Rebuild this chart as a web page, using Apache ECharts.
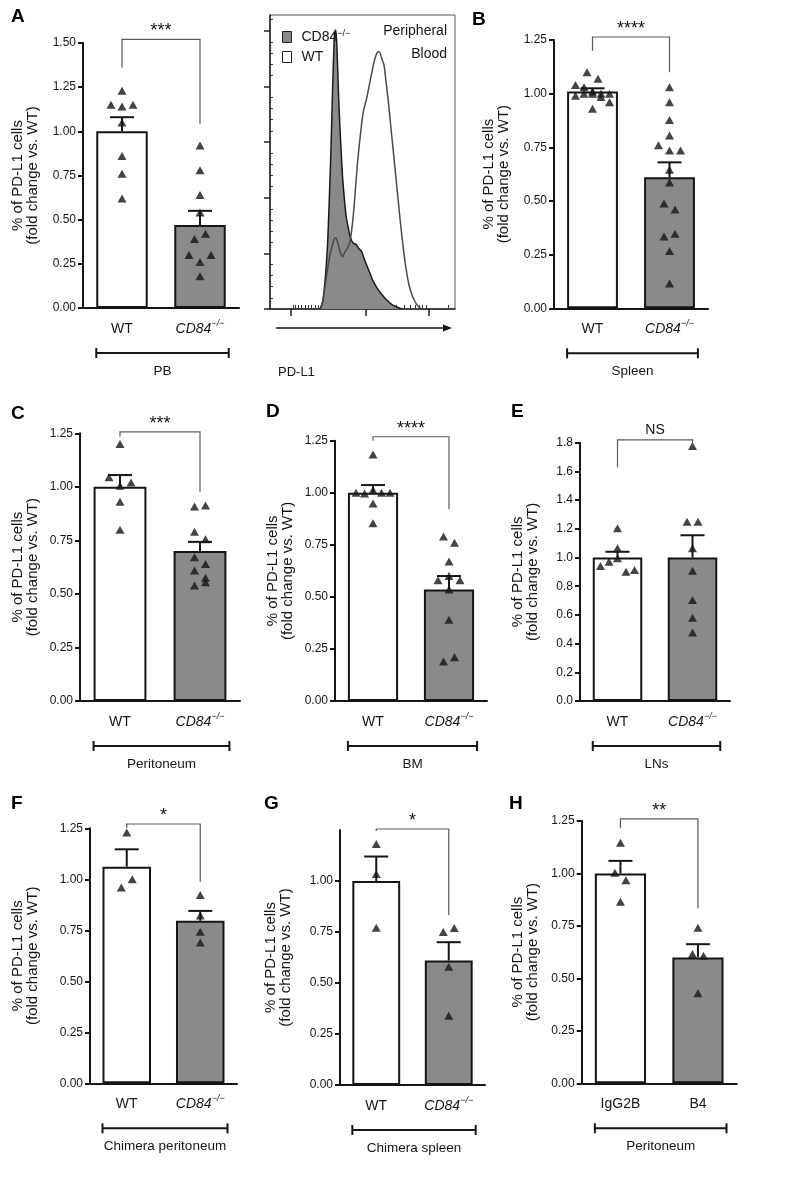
<!DOCTYPE html>
<html><head><meta charset="utf-8">
<script src="https://cdn.jsdelivr.net/npm/echarts@6.0.0/dist/echarts.min.js"></script>
<style>html,body{margin:0;padding:0;background:#fff}#c{width:786px;height:1190px}</style>
</head><body><div id="c"></div>
<script>
// ---------------- data ----------------
const yTitle = '% of PD-L1 cells\n(fold change vs. WT)';
const catsKO = ['WT', 'KO'];
const catsAb = ['IgG2B', 'B4'];

const meanA = [1.00, 0.47], semA = [0.08, 0.08];
const ptsA_WT = [1.23, 1.15, 1.14, 1.15, 1.05, 0.86, 0.76, 0.62];
const ptsA_KO = [0.92, 0.78, 0.64, 0.54, 0.39, 0.42, 0.30, 0.26, 0.30, 0.18];
const bracketA = [1.52, 1.36, 1.04];

const meanB = [1.01, 0.61], semB = [0.015, 0.07];
const ptsB_WT = [1.10, 1.07, 1.04, 1.03, 1.01, 1.00, 1.00, 0.99, 1.00, 1.00, 0.985, 0.96, 0.93];
const ptsB_KO = [1.03, 0.96, 0.877, 0.805, 0.76, 0.735, 0.735, 0.645, 0.586, 0.488, 0.46, 0.335, 0.347, 0.267, 0.116];
const bracketB = [1.264, 1.20, 1.10];

const meanC = [1.00, 0.70], semC = [0.055, 0.043];
const ptsC_WT = [1.20, 1.045, 1.005, 1.02, 0.93, 0.80];
const ptsC_KO = [0.908, 0.913, 0.79, 0.755, 0.671, 0.64, 0.609, 0.576, 0.539, 0.555];
const bracketC = [1.257, 1.234, 0.977];

const meanD = [1.00, 0.535], semD = [0.037, 0.065];
const ptsD_WT = [1.184, 1.0, 0.997, 1.013, 1.0, 1.0, 0.949, 0.853];
const ptsD_KO = [0.79, 0.76, 0.67, 0.58, 0.60, 0.58, 0.535, 0.39, 0.19, 0.21];
const bracketD = [1.269, 1.25, 0.921];

const meanE = [1.00, 1.00], semE = [0.04, 0.155];
const ptsE_WT = [1.203, 1.064, 0.94, 0.971, 0.994, 0.901, 0.913];
const ptsE_KO = [1.777, 1.249, 1.249, 1.064, 0.908, 0.704, 0.58, 0.478];
const bracketE = [1.819, 1.629, 1.777];

const meanF = [1.062, 0.797], semF = [0.085, 0.048];
const ptsF_WT = [1.229, 0.96, 1.0];
const ptsF_KO = [0.923, 0.822, 0.743, 0.69];
const bracketF = [1.271, 1.251, 0.988];

const meanG = [1.00, 0.61], semG = [0.12, 0.09];
const ptsG_WT = [1.181, 1.034, 0.771];
const ptsG_KO = [0.75, 0.77, 0.58, 0.34];
const bracketG = [1.255, 1.245, 0.833];

const meanH = [1.00, 0.60], semH = [0.06, 0.063];
const ptsH_IgG = [1.146, 1.003, 0.968, 0.865];
const ptsH_B4 = [0.741, 0.616, 0.608, 0.429];
const bracketH = [1.26, 1.215, 0.834];

// flow histogram (channel, count)
const histKO = [[150,0],[158,22],[165,82],[172,182],[178,332],[183,482],[187,632],[191,762],[194,832],[197,837],[200,802],[203,722],[206,632],[210,542],[214,462],[218,392],[223,332],[228,282],[235,242],[242,212],[250,197],[258,194],[266,182],[275,172],[282,152],[290,132],[300,107],[310,82],[322,62],[335,44],[350,27],[365,14],[380,6],[395,0]];
const histWT = [[152,0],[160,32],[170,102],[180,162],[190,202],[197,214],[205,192],[212,167],[218,157],[225,172],[232,182],[240,202],[248,262],[255,342],[262,432],[270,512],[280,592],[290,632],[300,682],[308,722],[315,752],[322,770],[328,772],[335,752],[342,732],[348,682],[355,622],[362,552],[370,472],[378,392],[385,322],[392,252],[400,182],[408,122],[417,72],[428,37],[440,14],[452,2],[465,0]];
const histXMajor = [61, 288, 477];
const histXMinor = [70,77,85,95,105,115,125,135,145,159,162,165,168,171,174,177,180,183,186,189,204,214,224,234,244,254,264,272,279,345,378,402,420,435,448,458,468,534];
const histYMajor = [0, 167, 334, 501, 668, 835];

// ---------------- layout / style ----------------
const F = "'Liberation Sans', Arial, Helvetica, sans-serif";
const INK = '#151515';
const GRAY = '#8a8a8a';

const panels = [
  {key:'A', letter:[11,16.5], grid:{left:83, top:43, width:156, height:265}, ymax:1.5, yint:0.25, dec:2, cats:catsKO, mean:meanA, sem:semA, pts:[ptsA_WT, ptsA_KO], br:bracketA, sig:'***', group:'PB', ylabX:25.5},
  {key:'B', letter:[472,20], grid:{left:554, top:40, width:154, height:268.3}, ymax:1.25, yint:0.25, dec:2, cats:catsKO, mean:meanB, sem:semB, pts:[ptsB_WT, ptsB_KO], br:bracketB, sig:'****', group:'Spleen', ylabX:496},
  {key:'C', letter:[11,413.5], grid:{left:80, top:433.3, width:160, height:267.7}, ymax:1.25, yint:0.25, dec:2, cats:catsKO, mean:meanC, sem:semC, pts:[ptsC_WT, ptsC_KO], br:bracketC, sig:'***', group:'Peritoneum', ylabX:25.5},
  {key:'D', letter:[266,411.5], grid:{left:335, top:440.7, width:152, height:260.3}, ymax:1.25, yint:0.25, dec:2, cats:catsKO, mean:meanD, sem:semD, pts:[ptsD_WT, ptsD_KO], br:bracketD, sig:'****', group:'BM', ylabX:280.8},
  {key:'E', letter:[511,411.5], grid:{left:580, top:442.7, width:150, height:258.3}, ymax:1.8, yint:0.2, dec:1, cats:catsKO, mean:meanE, sem:semE, pts:[ptsE_WT, ptsE_KO], br:bracketE, sig:'NS', group:'LNs', ylabX:525.8},
  {key:'F', letter:[11,803.5], grid:{left:90, top:828.3, width:147, height:255}, ymax:1.25, yint:0.25, dec:2, cats:catsKO, mean:meanF, sem:semF, pts:[ptsF_WT, ptsF_KO], br:bracketF, sig:'*', group:'Chimera peritoneum', ylabX:25.5},
  {key:'G', letter:[264,803.5], grid:{left:340, top:830, width:145, height:255}, ymax:1.25, yint:0.25, dec:2, labelTop:1.0, cats:catsKO, mean:meanG, sem:semG, pts:[ptsG_WT, ptsG_KO], br:bracketG, sig:'*', group:'Chimera spleen', ylabX:278},
  {key:'H', letter:[509,803.5], grid:{left:581.7, top:821, width:155, height:262.3}, ymax:1.25, yint:0.25, dec:2, cats:catsAb, mean:meanH, sem:semH, pts:[ptsH_IgG, ptsH_B4], br:bracketH, sig:'**', group:'Peritoneum', ylabX:525.8}
];

const catRich = {
  n:{fontSize:14, fontFamily:F, color:INK, lineHeight:20},
  i:{fontSize:14, fontStyle:'italic', fontFamily:F, color:INK, lineHeight:20},
  s:{fontSize:9, fontStyle:'italic', fontFamily:F, color:INK, verticalAlign:'top'}
};
function catFmt(v){ return v === 'KO' ? '{i|CD84}{s|\u2212/\u2212}' : '{n|' + v + '}'; }

// simple row-based dot arrangement (like a column scatter)
function swarm(vals, pxPerUnit){
  const T = 9, step = 11, span = 34;
  const rows = []; let cur = null;
  vals.forEach(v => {
    if (cur && Math.abs(cur.start - v) * pxPerUnit < T) cur.items.push(v);
    else { cur = {start:v, items:[v]}; rows.push(cur); }
  });
  const out = [];
  rows.forEach(r => {
    const n = r.items.length;
    const s = n > 1 ? Math.min(step, span / (n - 1)) : 0;
    r.items.forEach((v, i) => out.push([(i - (n - 1) / 2) * s, v]));
  });
  return out;
}

const option = {animation:false, textStyle:{fontFamily:F}, grid:[], xAxis:[], yAxis:[], series:[], legend:[], graphic:{elements:[]}};
const G = option.graphic.elements;
const axLine = {onZero:false, lineStyle:{color:INK, width:2}};
const axTick = {length:5, lineStyle:{color:INK, width:2}};

panels.forEach(p => {
  const g = p.grid;
  const gi = option.grid.length;
  option.grid.push({left:g.left, top:g.top, width:g.width, height:g.height});
  const ci = option.xAxis.length;
  option.xAxis.push({type:'category', gridIndex:gi, data:p.cats, boundaryGap:true,
    axisLine:axLine, axisTick:Object.assign({alignWithLabel:true}, axTick),
    axisLabel:{margin:11, formatter:catFmt, rich:catRich, interval:0}, splitLine:{show:false}});
  const vi = option.xAxis.length;
  option.xAxis.push({type:'value', gridIndex:gi, min:-0.5, max:1.5, show:false});
  const yi = option.yAxis.length;
  const yAx = {type:'value', gridIndex:gi, min:0, max:p.ymax, interval:p.yint,
    axisLine:Object.assign({show:true}, axLine), axisTick:Object.assign({show:true}, axTick),
    axisLabel:{margin:7, fontSize:12, color:INK, fontFamily:F, formatter:v => v.toFixed(p.dec)}, splitLine:{show:false}};
  if (p.labelTop){
    const cv = []; for (let v = 0; v <= p.labelTop + 1e-9; v += p.yint) cv.push(+v.toFixed(4));
    yAx.axisLabel.customValues = cv; yAx.axisTick.customValues = cv;
  }
  option.yAxis.push(yAx);

  // bars
  option.series.push({type:'bar', xAxisIndex:ci, yAxisIndex:yi, barWidth:'66%', silent:true, z:2,
    data:[{value:p.mean[0], itemStyle:{color:'#ffffff'}}, {value:p.mean[1], itemStyle:{color:GRAY}}],
    itemStyle:{borderColor:INK, borderWidth:2}});
  // SEM (upper) error bars
  option.series.push({type:'custom', xAxisIndex:ci, yAxisIndex:yi, silent:true, z:3,
    encode:{x:0, y:[1,2]},
    data:p.mean.map((m, i) => [i, m, m + p.sem[i]]),
    renderItem:(params, api) => {
      const b = api.coord([api.value(0), api.value(1)]);
      const t = api.coord([api.value(0), api.value(2)]);
      return {type:'group', children:[
        {type:'line', shape:{x1:b[0], y1:b[1], x2:t[0], y2:t[1]}, style:{stroke:INK, lineWidth:2}},
        {type:'line', shape:{x1:t[0]-12, y1:t[1], x2:t[0]+12, y2:t[1]}, style:{stroke:INK, lineWidth:2}}
      ]};
    }});
  // individual points
  const ppu = g.height / p.ymax;
  const pts = [];
  p.pts.forEach((arr, k) => swarm(arr, ppu).forEach(([off, v]) => pts.push([k + off * 2 / g.width, v])));
  option.series.push({type:'scatter', xAxisIndex:vi, yAxisIndex:yi, silent:true, z:4, data:pts,
    symbol:'triangle', symbolSize:[9,8], itemStyle:{color:INK}});
  // significance bracket
  const sig = p.sig;
  option.series.push({type:'custom', xAxisIndex:ci, yAxisIndex:yi, silent:true, clip:false, z:5,
    encode:{x:0, y:1},
    data:[[0, p.br[0], p.br[1], p.br[2]]],
    renderItem:(params, api) => {
      const top = api.value(1), le = api.value(2), re = api.value(3);
      const a = api.coord([0, top]), b = api.coord([1, top]);
      const al = api.coord([0, le]), br = api.coord([1, re]);
      const stars = sig !== 'NS';
      return {type:'group', children:[
        {type:'polyline', shape:{points:[[a[0], al[1]], [a[0], a[1]], [b[0], b[1]], [b[0], br[1]]]},
          style:{stroke:'#5a5a5a', lineWidth:1.2, fill:null}},
        {type:'text', x:(a[0] + b[0]) / 2, y:a[1] - (stars ? 8 : 10),
          style:{text:sig, fill:INK, font:(stars ? '18px ' : '14px ') + F,
            textAlign:'center', textVerticalAlign:'middle', align:'center', verticalAlign:'middle'}}
      ]};
    }});

  // panel letter
  G.push({type:'text', x:p.letter[0], y:p.letter[1], silent:true,
    style:{text:p.key, font:'bold 19px ' + F, fill:'#000', textAlign:'left', textVerticalAlign:'middle', align:'left', verticalAlign:'middle'}});
  // y title
  G.push({type:'text', x:p.ylabX, y:g.top + g.height / 2, rotation:Math.PI / 2, silent:true,
    style:{text:yTitle, font:'15px ' + F, fill:INK, lineHeight:15, textAlign:'center', textVerticalAlign:'middle', align:'center', verticalAlign:'middle'}});
  // group bracket below the axis
  const bottom = g.top + g.height;
  const c0 = g.left + g.width / 4, c1 = g.left + 3 * g.width / 4, bw = 0.66 * g.width / 2;
  const x1 = c0 - bw / 2, x2 = c1 + bw / 2 + 3, yb = bottom + 45;
  G.push({type:'line', silent:true, shape:{x1:x1, y1:yb, x2:x2, y2:yb}, style:{stroke:INK, lineWidth:2}});
  G.push({type:'line', silent:true, shape:{x1:x1, y1:yb-5, x2:x1, y2:yb+5}, style:{stroke:INK, lineWidth:2}});
  G.push({type:'line', silent:true, shape:{x1:x2, y1:yb-5, x2:x2, y2:yb+5}, style:{stroke:INK, lineWidth:2}});
  G.push({type:'text', x:(x1 + x2) / 2, y:bottom + 63, silent:true,
    style:{text:p.group, font:'13.5px ' + F, fill:INK, textAlign:'center', textVerticalAlign:'middle', align:'center', verticalAlign:'middle'}});
});

// ---------------- flow histogram ----------------
const H = {left:270, top:15, width:185, height:294};
const hg = option.grid.length;
option.grid.push({left:H.left, top:H.top, width:H.width, height:H.height, show:true, borderColor:'#555', borderWidth:1});
const hx = option.xAxis.length;
option.xAxis.push({type:'value', gridIndex:hg, min:0, max:555,
  axisLine:{onZero:false, lineStyle:{color:'#222', width:1.5}},
  axisTick:{show:true, customValues:histXMajor, length:7, lineStyle:{color:'#222', width:1.5}},
  axisLabel:{show:false}, splitLine:{show:false}});
option.xAxis.push({type:'value', gridIndex:hg, min:0, max:555, axisLine:{show:false},
  axisTick:{show:true, customValues:histXMinor, length:4, lineStyle:{color:'#333', width:1}},
  axisLabel:{show:false}, splitLine:{show:false}});
const histYMinor = [];
for (let i = 0; i < histYMajor.length; i++) {
  const a = histYMajor[i], st = (histYMajor[1] - histYMajor[0]) / 5;
  for (let k = 1; k < 5; k++) { const v = a + k * st; if (v < 882) histYMinor.push(v); }
}
const hy = option.yAxis.length;
option.yAxis.push({type:'value', gridIndex:hg, min:0, max:882,
  axisLine:{show:true, onZero:false, lineStyle:{color:'#222', width:1.5}},
  axisTick:{show:true, customValues:histYMajor, length:6, lineStyle:{color:'#222', width:1.5}},
  axisLabel:{show:false}, splitLine:{show:false}});
option.yAxis.push({type:'value', gridIndex:hg, min:0, max:882, axisLine:{show:false},
  axisTick:{show:true, customValues:histYMinor, length:3, lineStyle:{color:'#333', width:1}},
  axisLabel:{show:false}, splitLine:{show:false}});
option.series.push({name:'CD84-/-', type:'line', xAxisIndex:hx, yAxisIndex:hy, data:histKO, showSymbol:false, smooth:0.3, silent:true, z:2,
  lineStyle:{color:'#1a1a1a', width:1.5}, areaStyle:{color:GRAY, opacity:1}, itemStyle:{color:GRAY}});
option.series.push({name:'WT', type:'line', xAxisIndex:hx, yAxisIndex:hy, data:histWT, showSymbol:false, smooth:0.3, silent:true, z:3,
  lineStyle:{color:'#4a4a4a', width:1.5}, itemStyle:{color:'#fff'}});
option.legend.push({left:277, top:24, orient:'vertical', itemWidth:9, itemHeight:11, itemGap:6, selectedMode:false,
  data:[{name:'CD84-/-', icon:'rect', itemStyle:{color:GRAY, borderColor:'#222', borderWidth:1}},
        {name:'WT', icon:'rect', itemStyle:{color:'#fff', borderColor:'#222', borderWidth:1}}],
  formatter:n => n === 'WT' ? '{b|WT}' : '{b|CD84}{s|\u2212/\u2212}',
  textStyle:{color:INK, fontFamily:F, fontSize:14, rich:{
    b:{fontSize:14, fontFamily:F, color:INK, lineHeight:16, padding:[0,0,0,5]},
    s:{fontSize:9, fontFamily:F, color:INK, verticalAlign:'top'}}}});
G.push({type:'text', x:H.left + H.width - 8, y:31.5, silent:true,
  style:{text:'Peripheral', font:'14px ' + F, fill:INK, textAlign:'right', textVerticalAlign:'middle', align:'right', verticalAlign:'middle'}});
G.push({type:'text', x:H.left + H.width - 8, y:54.5, silent:true,
  style:{text:'Blood', font:'14px ' + F, fill:INK, textAlign:'right', textVerticalAlign:'middle', align:'right', verticalAlign:'middle'}});
// PD-L1 axis arrow
const ay = H.top + H.height + 19, ax1 = H.left + 6, ax2 = H.left + H.width - 3;
G.push({type:'line', silent:true, shape:{x1:ax1, y1:ay, x2:ax2 - 6, y2:ay}, style:{stroke:INK, lineWidth:1.5}});
G.push({type:'polygon', silent:true, shape:{points:[[ax2, ay], [ax2 - 9, ay - 3.5], [ax2 - 9, ay + 3.5]]}, style:{fill:INK}});
G.push({type:'text', x:ax1 + 2, y:372, silent:true,
  style:{text:'PD-L1', font:'13px ' + F, fill:INK, textAlign:'left', textVerticalAlign:'middle', align:'left', verticalAlign:'middle'}});

const chart = echarts.init(document.getElementById('c'), null, {renderer:'canvas'});
chart.setOption(option);
</script>
</body></html>
